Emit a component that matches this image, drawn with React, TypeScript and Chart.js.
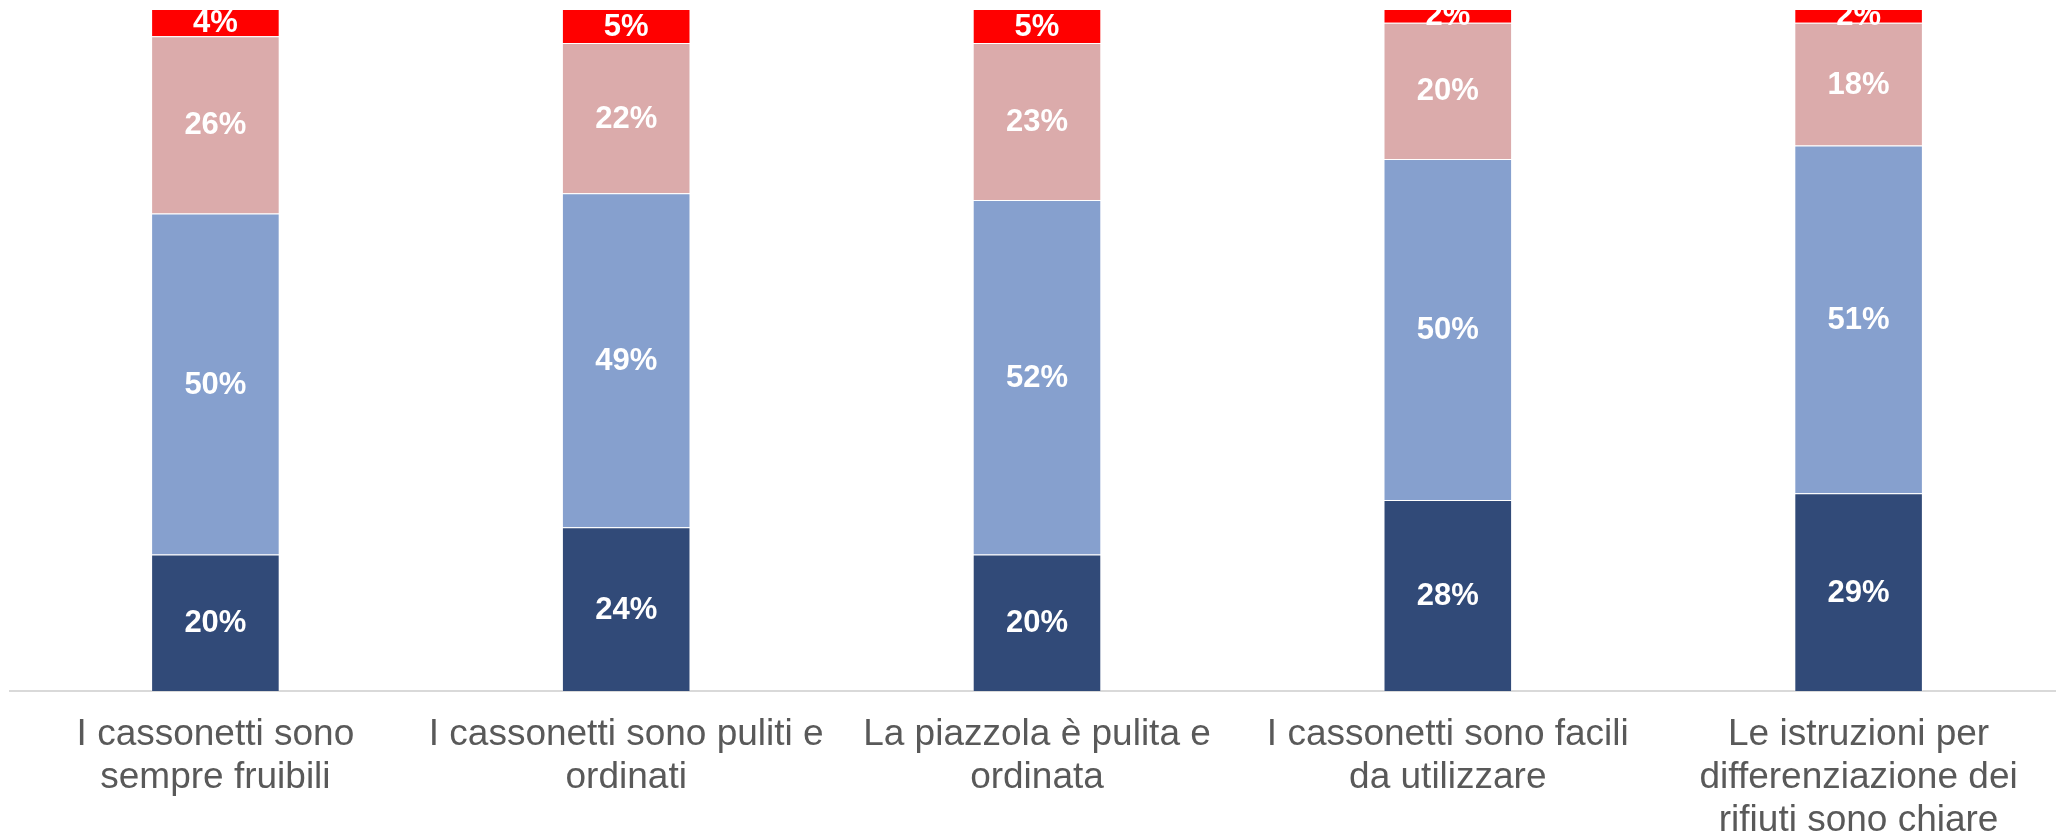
import React, { useEffect, useRef } from "react";
import { Chart, registerables } from "chart.js";

Chart.register(...registerables);

const categories: string[][] = [
  ["I cassonetti sono", "sempre fruibili"],
  ["I cassonetti sono puliti e", "ordinati"],
  ["La piazzola è pulita e", "ordinata"],
  ["I cassonetti sono facili", "da utilizzare"],
  ["Le istruzioni per", "differenziazione dei", "rifiuti sono chiare"],
];

const seriesDark: number[] = [20, 24, 20, 28, 29];
const seriesBlue: number[] = [50, 49, 52, 50, 51];
const seriesPink: number[] = [26, 22, 23, 20, 18];
const seriesRed: number[] = [4, 5, 5, 2, 2];

const colorDark = "#314A78";
const colorBlue = "#86A0CE";
const colorPink = "#DBABAB";
const colorRed = "#FF0000";

const FONT = "'Liberation Sans', Arial, sans-serif";

const dataLabelPlugin = {
  id: "dataLabels",
  afterDatasetsDraw(chart: any) {
    const ctx = chart.ctx;
    ctx.save();
    ctx.font = `bold 31px ${FONT}`;
    ctx.fillStyle = "#FFFFFF";
    ctx.textAlign = "center";
    ctx.textBaseline = "middle";
    chart.data.datasets.forEach((ds: any, di: number) => {
      const meta = chart.getDatasetMeta(di);
      meta.data.forEach((el: any, i: number) => {
        const { x, y, base } = el.getProps(["x", "y", "base"], true);
        ctx.fillText(`${ds.data[i]}%`, x, (y + base) / 2 + 1);
      });
    });
    ctx.restore();
  },
};

export default function App() {
  const canvasRef = useRef<HTMLCanvasElement | null>(null);

  useEffect(() => {
    document.body.style.margin = "0";
    document.body.style.overflow = "hidden";
    const canvas = canvasRef.current;
    if (!canvas) return;
    const mk = (label: string, data: number[], color: string) => ({
      label,
      data,
      backgroundColor: color,
      borderColor: "rgba(255,255,255,0.35)",
      borderWidth: 1,
      barPercentage: 0.313,
      categoryPercentage: 1,
    });
    const chart = new Chart(canvas, {
      type: "bar",
      data: {
        labels: categories,
        datasets: [
          mk("A", seriesDark, colorDark),
          mk("B", seriesBlue, colorBlue),
          mk("C", seriesPink, colorPink),
          mk("D", seriesRed, colorRed),
        ],
      },
      options: {
        animation: false,
        responsive: false,
        maintainAspectRatio: false,
        layout: { padding: { left: 10, top: 9, right: 0, bottom: 0 } },
        plugins: {
          legend: { display: false },
          tooltip: { enabled: false },
        },
        scales: {
          x: {
            stacked: true,
            grid: { display: false, drawTicks: false },
            border: { display: true, color: "#D9D9D9", width: 2 },
            ticks: {
              color: "#595959",
              font: { family: FONT, size: 37, lineHeight: 1.162 },
              padding: 22,
              maxRotation: 0,
              autoSkip: false,
            },
            afterFit: (scale: any) => {
              scale.height = 836 - 691;
            },
          },
          y: {
            stacked: true,
            display: false,
            min: 0,
            max: 100,
          },
        },
      },
      plugins: [dataLabelPlugin],
    });
    return () => chart.destroy();
  }, []);

  return (
    <div style={{ position: "absolute", left: 0, top: 0, width: 2056, height: 836, overflow: "hidden", background: "#fff" }}>
      <canvas ref={canvasRef} width={2064} height={836} style={{ display: "block", width: 2064, height: 836 }} />
    </div>
  );
}
